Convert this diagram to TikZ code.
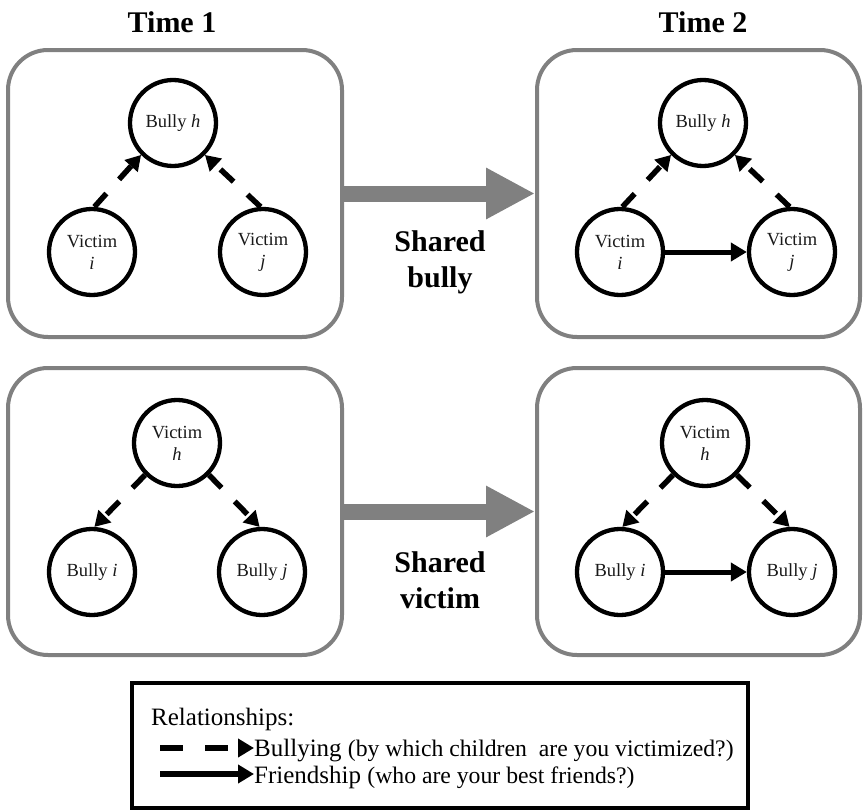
\documentclass[tikz,border=0pt]{standalone}
\usepackage{fontspec}
\setmainfont{Liberation Serif}
\usetikzlibrary{arrows.meta}
\definecolor{boxgray}{RGB}{128,128,128}
\definecolor{ink}{RGB}{25,25,25}
\begin{document}
\begin{tikzpicture}[x=1pt,y=-1pt,
  panel/.style={draw=boxgray, line width=4pt, rounded corners=40pt, minimum height=287pt, inner sep=0pt},
  person/.style={circle, draw, line width=4.3pt, minimum size=86pt, inner sep=0pt, align=center, text=ink, font=\fontsize{18.5}{22}\selectfont},
  bul/.style={line width=5.5pt, dash pattern=on 18pt off 19pt, -{Triangle[length=15pt,width=17pt]}},
  fri/.style={line width=5pt, -{Triangle[length=16pt,width=18pt]}},
  big/.style={line width=16pt, draw=boxgray, -{Triangle[length=49pt,width=48pt]}},
  ttl/.style={font=\fontsize{30}{30}\selectfont\bfseries},
  shared/.style={font=\fontsize{30}{36}\selectfont\bfseries, align=center},
  legtxt/.style={font=\fontsize{25}{28}\selectfont, inner sep=0pt},
  legarr/.style={line width=6pt, -{Triangle[length=16pt,width=18pt]}}]
\useasboundingbox (0,0) rectangle (863,811);
% titles
\node[ttl] (t1) at (172,22) {Time 1};
\node[ttl] (t2) at (703,22) {Time 2};
% panels
\node[panel, minimum width=334pt] (p1) at (175,193.5) {};
\node[panel, minimum width=323pt] (p2) at (698.5,193.5) {};
\node[panel, minimum width=334pt] (p3) at (175,511.5) {};
\node[panel, minimum width=323pt] (p4) at (698.5,511.5) {};
% big arrows
\draw[big] (p1.east) -- (p2.west);
\draw[big] (p3.east) -- (p4.west);
\node[shared] (sb) at (440,262) {Shared\\bully};
\node[shared] (sv) at (440,580) {Shared\\victim};
% top-left
\node[person] (bh1) at (173,123) {Bully \textit{h}};
\node[person] (vi1) at (92,252) {Victim\\\textit{i}};
\node[person] (vj1) at (263,252) {Victim\\\textit{j}};
\draw[bul] (vi1.87) -- (bh1.225);
\draw[bul] (vj1.93) -- (bh1.315);
% top-right
\node[person] (bh2) at (703,123) {Bully \textit{h}};
\node[person] (vi2) at (620,252) {Victim\\\textit{i}};
\node[person] (vj2) at (792,252) {Victim\\\textit{j}};
\draw[bul] (vi2.87) -- (bh2.225);
\draw[bul] (vj2.93) -- (bh2.315);
\draw[fri] (vi2) -- (vj2);
% bottom-left
\node[person] (vh3) at (177,443) {Victim\\\textit{h}};
\node[person] (bi3) at (92,572) {Bully \textit{i}};
\node[person] (bj3) at (262,572) {Bully \textit{j}};
\draw[bul] (vh3.225) -- (bi3.87);
\draw[bul] (vh3.315) -- (bj3.93);
% bottom-right
\node[person] (vh4) at (705,443) {Victim\\\textit{h}};
\node[person] (bi4) at (620,572) {Bully \textit{i}};
\node[person] (bj4) at (792,572) {Bully \textit{j}};
\draw[bul] (vh4.225) -- (bi4.87);
\draw[bul] (vh4.315) -- (bj4.93);
\draw[fri] (bi4) -- (bj4);
% legend
\node[draw, line width=4pt, minimum width=616pt, minimum height=125pt] (leg) at (440,745.5) {};
\node[legtxt, anchor=base west] (rel) at (151,725) {Relationships:};
\node[legtxt, anchor=base west] (lb) at (254,756) {Bullying {\fontsize{23.7}{26}\selectfont (by which children\ \ are you victimized?)}};
\node[legtxt, anchor=base west] (lf) at (254,783) {Friendship {\fontsize{23.7}{26}\selectfont (who are your best friends?)}};
\coordinate (c1) at (160,748);
\coordinate (c2) at (160,774);
\draw[legarr, dash pattern=on 23pt off 22pt] (c1) -- (c1 -| lb.west);
\draw[legarr] (c2) -- (c2 -| lf.west);
\end{tikzpicture}
\end{document}
